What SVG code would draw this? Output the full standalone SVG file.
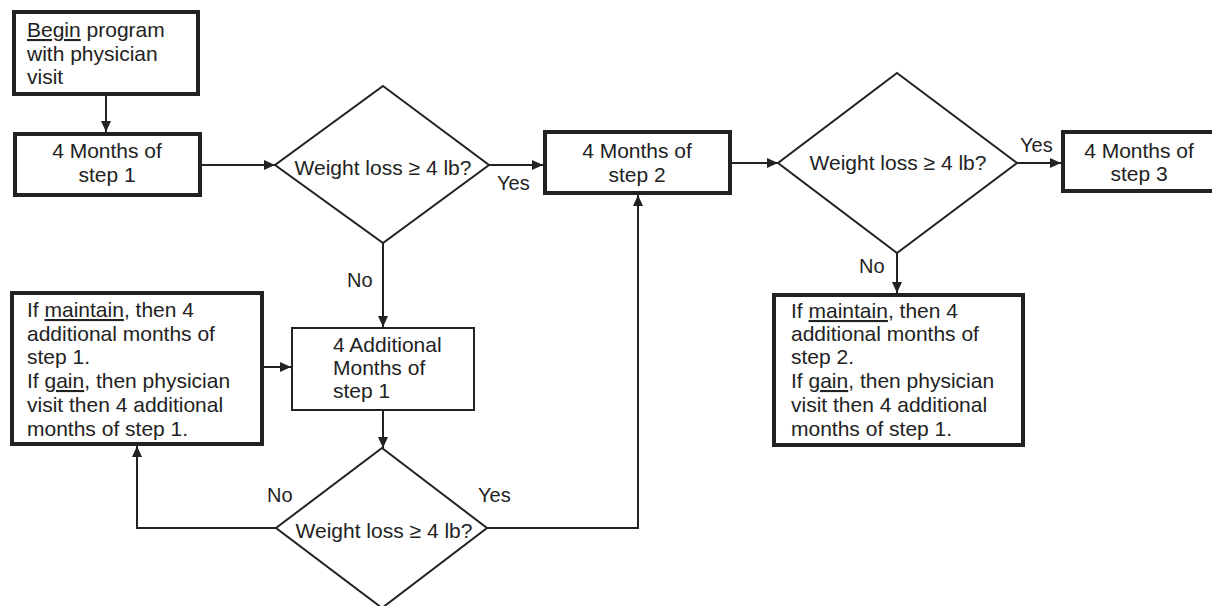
<svg xmlns="http://www.w3.org/2000/svg" width="1212" height="606" viewBox="0 0 1212 606">
<style>
.box{fill:#fff;stroke:#222;stroke-width:4}
.thin{fill:#fff;stroke:#222;stroke-width:2}
.dia{fill:#fff;stroke:#222;stroke-width:2}
.con{fill:none;stroke:#222;stroke-width:2}
text{font-family:"Liberation Sans",Arial,sans-serif;font-size:21px;fill:#222}
.c{text-anchor:middle}
.lbl{font-size:20px}
.u{text-decoration:underline}
</style>
<defs>
<marker id="arr" markerUnits="userSpaceOnUse" markerWidth="12" markerHeight="10" refX="11" refY="5" orient="auto">
<path d="M0,0 L11,5 L0,10 z" fill="#222"/>
</marker>
</defs>
<rect width="1212" height="606" fill="#fff"/>
<g id="connectors">
<path class="con" d="M106,96 V132" marker-end="url(#arr)"/>
<path class="con" d="M202,165 H275" marker-end="url(#arr)"/>
<path class="con" d="M489,165 H543" marker-end="url(#arr)"/>
<path class="con" d="M732,163 H778" marker-end="url(#arr)"/>
<path class="con" d="M1017,163 H1061" marker-end="url(#arr)"/>
<path class="con" d="M897,253 V293" marker-end="url(#arr)"/>
<path class="con" d="M383,243 V327" marker-end="url(#arr)"/>
<path class="con" d="M264,367 H291" marker-end="url(#arr)"/>
<path class="con" d="M383,411 V448" marker-end="url(#arr)"/>
<path class="con" d="M276,528 H137 V446" marker-end="url(#arr)"/>
<path class="con" d="M487,528 H638 V195" marker-end="url(#arr)"/>
<text class="lbl" x="497" y="190">Yes</text>
<text class="lbl" x="347" y="287">No</text>
<text class="lbl" x="1020" y="152">Yes</text>
<text class="lbl" x="859" y="273">No</text>
<text class="lbl" x="267" y="502">No</text>
<text class="lbl" x="478" y="502">Yes</text>
</g>
<g id="begin">
<rect class="box" x="14" y="12" width="184" height="82"/>
<text x="27" y="37"><tspan class="u">Begin</tspan> program</text>
<text x="27" y="61">with physician</text>
<text x="27" y="84">visit</text>
</g>
<g id="step1">
<rect class="box" x="15" y="134" width="185" height="61"/>
<text class="c" x="107" y="158">4 Months of</text>
<text class="c" x="107" y="182">step 1</text>
</g>
<g id="decision1">
<polygon class="dia" points="383,86 489,165 383,243 275,165"/>
<text class="c" x="383" y="175">Weight loss ≥ 4 lb?</text>
</g>
<g id="step2">
<rect class="box" x="545" y="132" width="185" height="61"/>
<text class="c" x="637" y="158">4 Months of</text>
<text class="c" x="637" y="182">step 2</text>
</g>
<g id="decision2">
<polygon class="dia" points="897,73 1017,163 897,253 778,163"/>
<text class="c" x="898" y="170">Weight loss ≥ 4 lb?</text>
</g>
<g id="step3">
<rect class="box" x="1063" y="132" width="200" height="59"/>
<text class="c" x="1139" y="158">4 Months of</text>
<text class="c" x="1139" y="181">step 3</text>
</g>
<g id="maintain2">
<rect class="box" x="774" y="295" width="249" height="150"/>
<text x="791" y="318">If <tspan class="u">maintain</tspan>, then 4</text>
<text x="791" y="341">additional months of</text>
<text x="791" y="364">step 2.</text>
<text x="791" y="388">If <tspan class="u">gain</tspan>, then physician</text>
<text x="791" y="412">visit then 4 additional</text>
<text x="791" y="436">months of step 1.</text>
</g>
<g id="maintain1">
<rect class="box" x="12" y="293" width="250" height="151"/>
<text x="27" y="317">If <tspan class="u">maintain</tspan>, then 4</text>
<text x="27" y="341">additional months of</text>
<text x="27" y="364">step 1.</text>
<text x="27" y="388">If <tspan class="u">gain</tspan>, then physician</text>
<text x="27" y="412">visit then 4 additional</text>
<text x="27" y="436">months of step 1.</text>
</g>
<g id="additional">
<rect class="thin" x="292" y="328" width="182" height="82"/>
<text x="333" y="352">4 Additional</text>
<text x="333" y="375">Months of</text>
<text x="333" y="398">step 1</text>
</g>
<g id="decision3">
<polygon class="dia" points="382,448 487,528 382,608 276,528"/>
<text class="c" x="384" y="538">Weight loss ≥ 4 lb?</text>
</g>
</svg>
